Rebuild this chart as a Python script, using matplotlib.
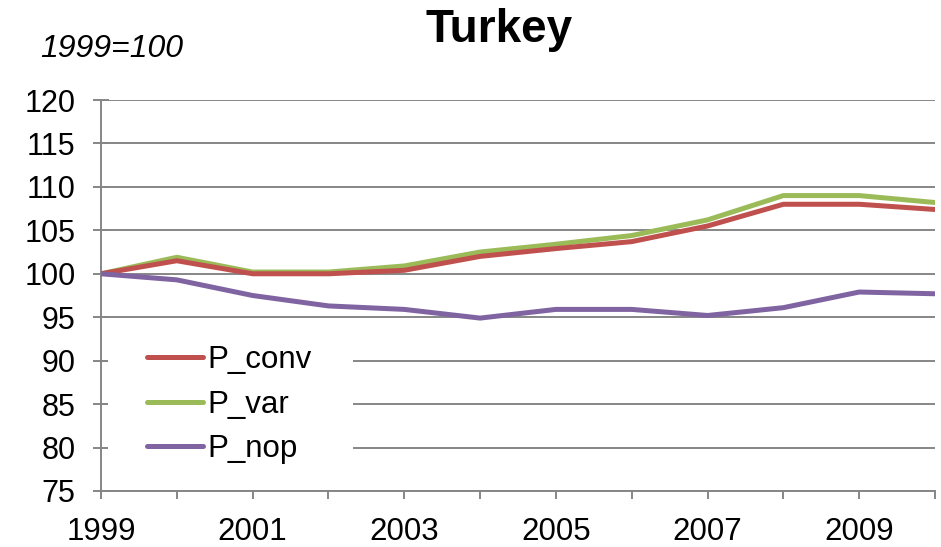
import matplotlib
matplotlib.use("Agg")
import matplotlib.pyplot as plt
from matplotlib.patches import Rectangle

plt.rcParams['font.family'] = ['Liberation Sans', 'DejaVu Sans']

years = list(range(1999, 2011))
p_conv = [100.0, 101.5, 100.0, 100.0, 100.4, 102.0, 102.9, 103.7, 105.5, 108.0, 108.0, 107.4]
p_var = [100.0, 101.9, 100.2, 100.2, 100.9, 102.5, 103.4, 104.4, 106.2, 109.0, 109.0, 108.2]
p_nop = [100.0, 99.3, 97.5, 96.3, 95.9, 94.9, 95.9, 95.9, 95.2, 96.1, 97.9, 97.7]
x_labels = ['1999', '', '2001', '', '2003', '', '2005', '', '2007', '', '2009', '']
y_ticks = list(range(75, 121, 5))

grey = '#868686'

fig = plt.figure(figsize=(9.41, 5.47), dpi=100)
ax = fig.add_axes([101 / 941, 1 - 491 / 547, 834 / 941, 391 / 547])

ax.plot(years, p_conv, color='#C0504D', lw=3.6, label='P_conv', zorder=4, solid_capstyle='round')
ax.plot(years, p_var, color='#9BBB59', lw=3.6, label='P_var', zorder=3, solid_capstyle='round')
ax.plot(years, p_nop, color='#8064A2', lw=3.6, label='P_nop', zorder=5, solid_capstyle='round')

ax.set_xlim(1999, 2010)
ax.set_ylim(75, 120)
ax.set_xticks(years)
ax.set_xticklabels(x_labels)
ax.set_yticks(y_ticks)

ax.yaxis.grid(True, color=grey, lw=1.4, zorder=0)
ax.set_axisbelow(True)
for s in ('top', 'right'):
    ax.spines[s].set_visible(False)
for s in ('left', 'bottom'):
    ax.spines[s].set_color(grey)
    ax.spines[s].set_linewidth(1.4)

ax.tick_params(axis='y', direction='inout', length=11.5, width=1.4, color=grey,
               labelsize=22, pad=12.5)
ax.tick_params(axis='x', direction='out', length=6, width=1.4, color=grey,
               labelsize=22.5, pad=13)

# white panel behind the legend hides the gridlines there
x0, x1 = (108 - 101) / 834, (353 - 101) / 834
y0, y1 = (491 - 470) / 391, (491 - 332) / 391
ax.add_patch(Rectangle((x0, y0), x1 - x0, y1 - y0, transform=ax.transAxes,
                       facecolor='white', edgecolor='none', zorder=1))

leg = ax.legend(loc='upper left', bbox_to_anchor=(0.04, 0.405), frameon=False,
                fontsize=22.5, handlelength=1.8, handletextpad=0.15,
                labelspacing=0.46, borderaxespad=0)
for h in leg.get_lines():
    h.set_linewidth(3.6)

fig.text(499 / 941, 1 - 30 / 547, 'Turkey', ha='center', va='center',
         fontsize=33, fontweight='bold')
fig.text(40 / 941, 1 - 49 / 547, '1999=100', ha='left', va='center',
         fontsize=23, style='italic')

fig.savefig('out.png', dpi=100)
